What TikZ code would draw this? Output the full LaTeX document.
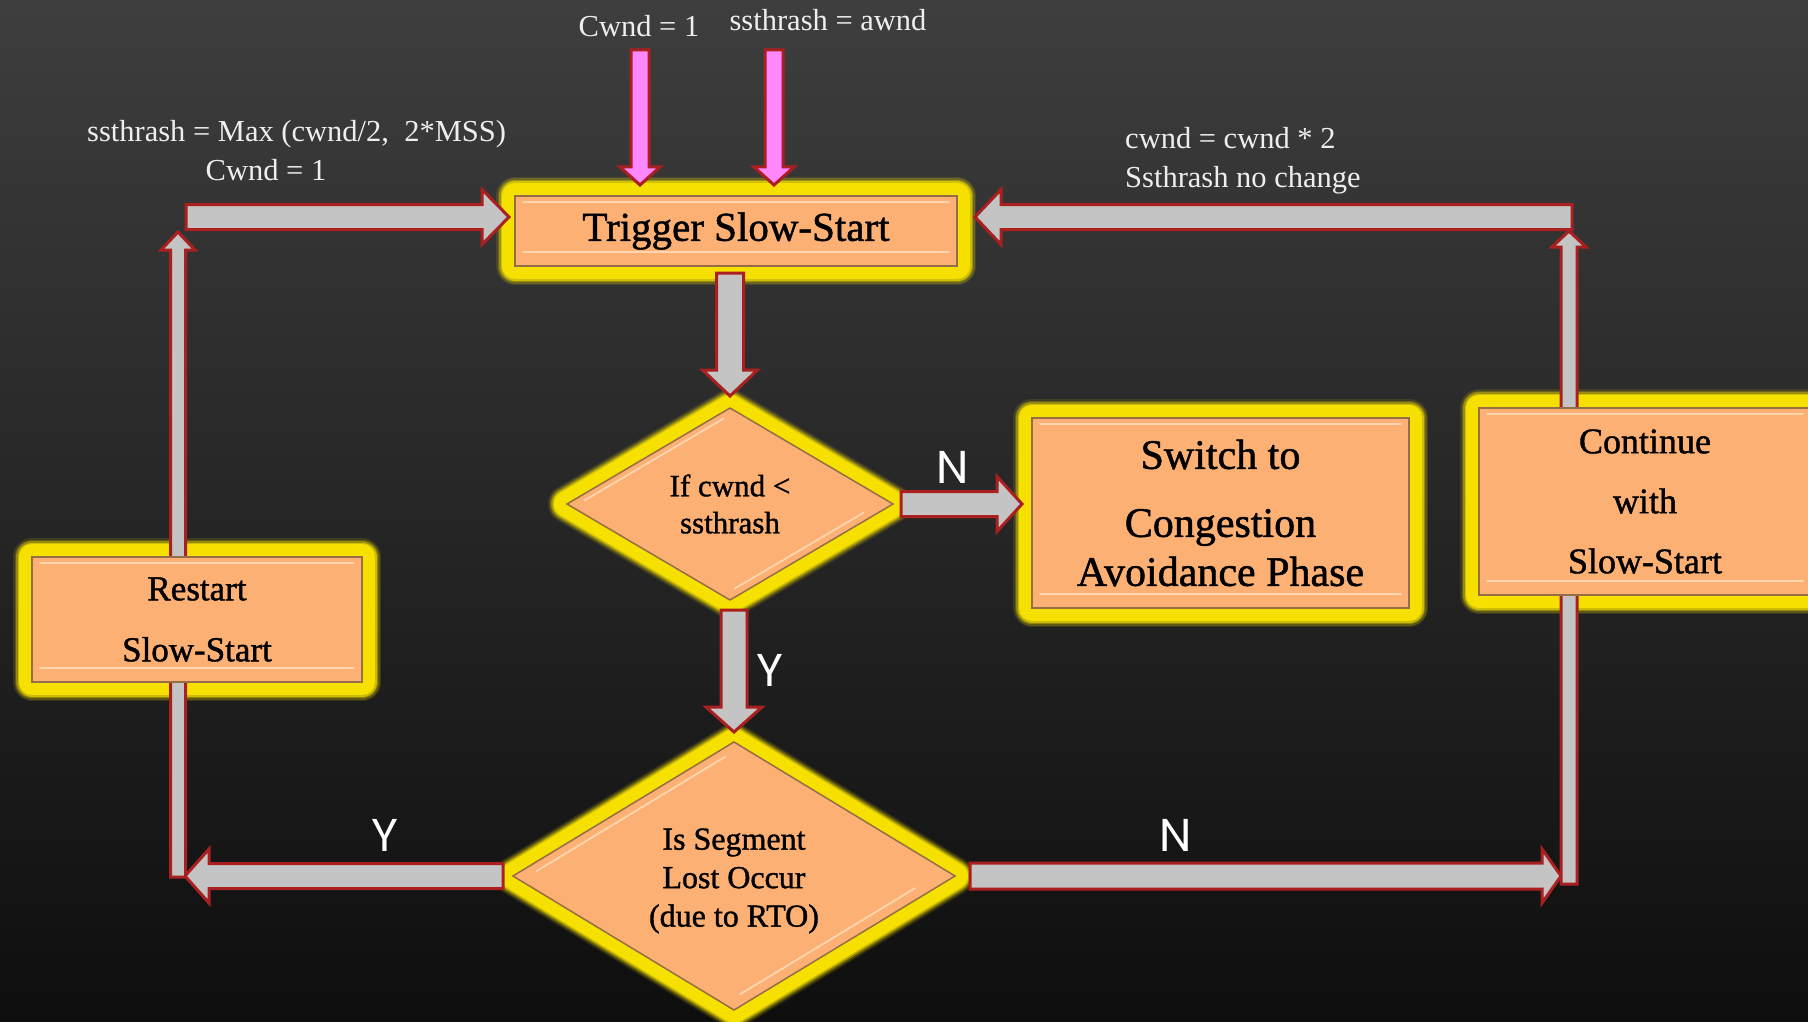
\documentclass[tikz,border=0pt]{standalone}
\usepackage{fontspec}
\setmainfont{Liberation Serif}
\newfontfamily\lblfont{Poppins}
\usetikzlibrary{shapes.geometric,calc}

\definecolor{bgtop}{RGB}{62,62,62}
\definecolor{bgbot}{RGB}{14,14,14}
\definecolor{peach}{RGB}{252,176,116}
\definecolor{peachedge}{RGB}{150,110,70}
\definecolor{peachhi}{RGB}{255,214,176}
\definecolor{glowy}{RGB}{245,224,0}
\definecolor{arrowgray}{RGB}{196,196,196}
\definecolor{arrowred}{RGB}{170,32,32}
\definecolor{pinkfill}{RGB}{255,136,255}
\definecolor{notewhite}{RGB}{238,238,238}

\pgfdeclarelayer{backdrop}
\pgfdeclarelayer{halolayer}
\pgfdeclarelayer{front}
\pgfsetlayers{backdrop,halolayer,main,front}

% block arrow: [style] start, tip, shaft half-width, head half-width, head length
\newcommand\blockarrow[6][]{%
  \coordinate (ba-base) at ($(#3)!#6!(#2)$);
  \draw[blockar,#1] ($(#2)!#4!90:(#3)$) -- ($(ba-base)!#4!90:(#3)$)
    -- ($(ba-base)!#5!90:(#3)$) -- (#3) -- ($(ba-base)!#5!-90:(#3)$)
    -- ($(ba-base)!#4!-90:(#3)$) -- ($(#2)!#4!-90:(#3)$) -- cycle;
}
% bevel highlights of a box
\newcommand\boxshine[1]{%
  \draw[shine] ($(#1.north west)+(8,6)$) -- ($(#1.north east)+(-8,6)$);
  \draw[shine] ($(#1.south west)+(8,-14)$) -- ($(#1.south east)+(-8,-14)$);
}
% bevel highlights of a decision diamond
\newcommand\diamondshine[1]{%
  \coordinate (ds-w) at ($(#1.west)!0.07!(#1.center)$);
  \coordinate (ds-n) at ($(#1.north)!0.07!(#1.center)$);
  \coordinate (ds-e) at ($(#1.east)!0.09!(#1.center)$);
  \coordinate (ds-s) at ($(#1.south)!0.09!(#1.center)$);
  \draw[shine] ($(ds-w)!0.04!(ds-n)$) -- ($(ds-w)!0.96!(ds-n)$);
  \draw[shine] ($(ds-e)!0.1!(ds-s)$) -- ($(ds-e)!0.97!(ds-s)$);
}

\tikzset{
  blockar/.style={fill=arrowgray, draw=arrowred, line width=3pt, line join=miter},
  pinkar/.style={fill=pinkfill},
  box/.style={rectangle, fill=peach, draw=peachedge, line width=1.5pt,
    inner sep=0pt, outer sep=0pt, align=center, text=black},
  decision/.style={diamond, aspect=1.7, fill=peach, draw=peachedge, line width=1.5pt,
    inner sep=0pt, outer sep=0pt, align=center, text=black},
  halo/.style={line join=round,
    preaction={draw=glowy, line join=round, line width=38pt, opacity=0.12},
    preaction={draw=glowy, line join=round, line width=35pt, opacity=0.2},
    preaction={draw=glowy, line join=round, line width=32pt, opacity=0.35},
    preaction={draw=glowy, line join=round, line width=29pt, opacity=0.6},
    draw=glowy, fill=glowy, line width=26pt},
  shine/.style={draw=peachhi, line width=1.8pt, line cap=round},
  note/.style={text=notewhite, font=\fontsize{30.5}{36}\selectfont, inner sep=0pt},
  yn/.style={text=white, font=\lblfont\fontsize{46}{46}\selectfont, inner sep=0pt},
}
\newcommand\heavy{\addfontfeatures{FakeBold=1.2}}

\begin{document}
\begin{tikzpicture}[x=1pt,y=-1pt]
\useasboundingbox (0,0) rectangle (1808,1022);
\begin{pgfonlayer}{backdrop}
  \fill[top color=bgtop, bottom color=bgbot] (0,0) rectangle (1808,1022);
\end{pgfonlayer}

% process boxes and decisions
\begin{pgfonlayer}{front}
  \node[box, minimum width=442pt, minimum height=70pt,
        font=\fontsize{41}{48}\selectfont\heavy] (trig) at (736,231) {Trigger Slow-Start};
  \node[decision, minimum width=326pt, minimum height=192pt,
        font=\fontsize{31}{37}\selectfont\heavy] (d1) at (730,504) {If cwnd <\\ssthrash};
  \node[decision, minimum width=442pt, minimum height=268pt,
        font=\fontsize{32}{38.5}\selectfont\heavy] (d2) at (734,876) {\rule{0pt}{31pt}Is Segment\\Lost Occur\\(due to RTO)};
  \node[box, minimum width=377pt, minimum height=190pt,
        font=\fontsize{42}{49}\selectfont\heavy] (switch) at (1220.5,513) {Switch to\\[19pt]Congestion\\Avoidance Phase};
  \node[box, minimum width=332pt, minimum height=187pt,
        font=\fontsize{36}{60}\selectfont\heavy] (cont) at (1645,501.5) {Continue\\with\\Slow-Start};
  \node[box, minimum width=330pt, minimum height=125pt,
        font=\fontsize{35}{61}\selectfont\heavy] (restart) at (197,619.5) {Restart\\Slow-Start};
  \boxshine{trig}
  \boxshine{switch}
  \boxshine{cont}
  \boxshine{restart}
  \diamondshine{d1}
  \diamondshine{d2}
\end{pgfonlayer}

% yellow glow round every shape
\begin{pgfonlayer}{halolayer}
  \foreach \n in {trig,switch,cont,restart}
    \path[halo] (\n.south west) rectangle (\n.north east);
  \foreach \n in {d1,d2}
    \path[halo] (\n.north) -- (\n.east) -- (\n.south) -- (\n.west) -- cycle;
\end{pgfonlayer}

% annotations
\node[note, anchor=base] (cwndtop) at (639,37) {Cwnd = 1};
\node[note, anchor=base] (ssawnd) at (828,31) {ssthrash = awnd};
\node[note, anchor=base west] (ssmax) at (87,142) {ssthrash = Max (cwnd/2,\ \ 2*MSS)};
\node[note, anchor=base] (cwndleft) at (266,181) {Cwnd = 1};
\node[note, anchor=base west] (cwdbl) at (1125,149) {cwnd = cwnd * 2};
\node[note, anchor=base west] (nochg) at (1125,187) {Ssthrash no change};

\node[yn] (ntop) at (953,467) {N};
\node[yn] (ymid) at (770,670) {Y};
\node[yn] (ylow) at (385,835) {Y};
\node[yn] (nlow) at (1176,835) {N};

% corners of the two feedback loops
\coordinate (bl) at (178,876);
\coordinate (tl) at (178,217);
\coordinate (tr) at (1569,217);
\coordinate (br) at (1569,876);

% initial settings fed into slow-start
\coordinate (pa-s) at (640,50);
\coordinate (pa-t) at ($(trig.north -| pa-s)+(0,-11)$);
\coordinate (pb-s) at (774,50);
\coordinate (pb-t) at ($(trig.north -| pb-s)+(0,-11)$);
\blockarrow[pinkar]{pa-s}{pa-t}{9pt}{20pt}{18pt}
\blockarrow[pinkar]{pb-s}{pb-t}{9pt}{20pt}{18pt}

% slow-start -> first decision
\coordinate (a1-s) at ($(trig.south -| d1.north)+(0,7)$);
\coordinate (a1-t) at ($(d1.north)+(0,-12)$);
\blockarrow{a1-s}{a1-t}{13.5pt}{27.5pt}{26pt}

% N: switch to congestion avoidance
\coordinate (a2-s) at ($(d1.east)+(8,0)$);
\coordinate (a2-t) at ($(switch.west |- d1.east)+(-10,0)$);
\blockarrow{a2-s}{a2-t}{12.5pt}{27.5pt}{25pt}

% Y: check for segment loss
\coordinate (a3-s) at ($(d1.south -| d2.north)+(0,10)$);
\coordinate (a3-t) at ($(d2.north)+(0,-10)$);
\blockarrow{a3-s}{a3-t}{13pt}{28pt}{25pt}

% loss -> restart loop
\coordinate (a4-s) at ($(d2.west)+(-10,0)$);
\coordinate (a4-t) at ($(bl)+(7,0)$);
\blockarrow{a4-s}{a4-t}{12.5pt}{27pt}{24pt}
\coordinate (a5-s) at ($(bl)+(0,1)$);
\coordinate (a5-t) at ($(tl)+(0,15)$);
\blockarrow{a5-s}{a5-t}{7.5pt}{17pt}{18pt}
\coordinate (a6-s) at ($(tl)+(8,0)$);
\coordinate (a6-t) at ($(trig.west |- tl)+(-6,0)$);
\blockarrow{a6-s}{a6-t}{12.5pt}{27.5pt}{27pt}

% no loss -> continue loop
\coordinate (a9-s) at ($(d2.east)+(15,0)$);
\coordinate (a9-t) at ($(br)+(-8,0)$);
\blockarrow{a9-s}{a9-t}{13pt}{27pt}{19pt}
\coordinate (a8-s) at ($(br)+(0,8)$);
\coordinate (a8-t) at ($(tr)+(0,14)$);
\blockarrow{a8-s}{a8-t}{8pt}{17pt}{16pt}
\coordinate (a7-s) at ($(tr)+(3,0)$);
\coordinate (a7-t) at ($(trig.east |- tr)+(18,0)$);
\blockarrow{a7-s}{a7-t}{12.5pt}{27.5pt}{26pt}
\end{tikzpicture}
\end{document}
